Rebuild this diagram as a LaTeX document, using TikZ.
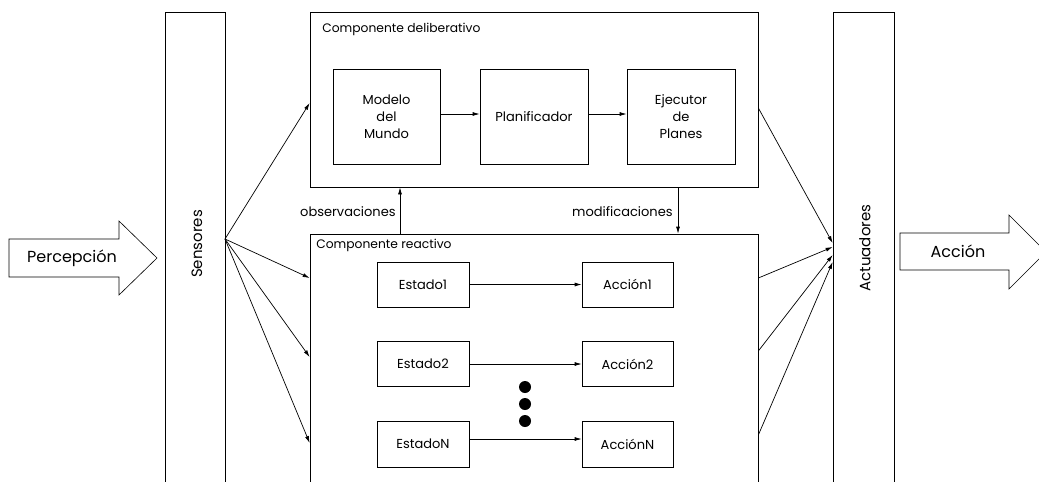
\documentclass[tikz,border=0pt]{standalone}
\usepackage{fontspec}
\setmainfont{Poppins}
\usetikzlibrary{arrows.meta}
\begin{document}
\begin{tikzpicture}[x=1pt,y=-1pt,
  line width=0.7pt,
  box/.style={draw,rectangle,inner sep=0pt},
  lbl/.style={inner sep=0pt,font=\fontsize{13}{17}\selectfont},
  title/.style={inner sep=0pt,font=\fontsize{12.3}{15}\selectfont},
  barlbl/.style={inner sep=0pt,rotate=90,font=\fontsize{15}{18}\selectfont},
  biglbl/.style={inner sep=0pt,font=\fontsize{16}{19}\selectfont},
  arr/.style={-{Latex[length=7pt,width=4pt]}},
  bigarrow/.style={draw,line width=0.6pt,fill=white}]
\clip (0,0) rectangle (1039,482);
\fill[white] (0,0) rectangle (1039,482);

% side bars
\node[box,minimum width=60pt,minimum height=518pt] (sens) at (195,271) {};
\node[barlbl] (sensT) at (197,244) {Sensores};
\node[box,minimum width=61pt,minimum height=518pt] (act) at (863.5,271) {};
\node[barlbl] (actT) at (865,248) {Actuadores};

% input / output block arrows
\draw[bigarrow] (9,239) -- (119,239) -- (119,221) -- (157,258) -- (119,295) -- (119,277) -- (9,277) -- cycle;
\node[biglbl] (perc) at (72,258) {Percepción};
\draw[bigarrow] (900,233) -- (1009,233) -- (1009,215) -- (1046,252) -- (1009,289) -- (1009,270) -- (900,270) -- cycle;
\node[biglbl] (accion) at (958,251) {Acción};

% deliberative component
\node[box,minimum width=448pt,minimum height=175pt] (delib) at (534,99.5) {};
\node[title,anchor=west] (delibT) at (322,29) {Componente deliberativo};
\node[box,minimum width=107pt,minimum height=95pt,align=center,lbl] (modelo) at (386.5,116.5) {Modelo\\del\\Mundo};
\node[box,minimum width=108pt,minimum height=95pt,lbl] (plan) at (534,116.5) {Planificador};
\node[box,minimum width=108pt,minimum height=95pt,align=center,lbl] (ejec) at (681,116.5) {Ejecutor\\de\\Planes};
\draw[arr] (modelo.east |- 0,114) -- (plan.west |- 0,114);
\draw[arr] (plan.east |- 0,114) -- (ejec.west |- 0,114);

% reactive component
\node[box,minimum width=448pt,minimum height=296pt] (react) at (534,382) {};
\node[title,anchor=west] (reactT) at (316,245) {Componente reactivo};
\node[box,minimum width=92pt,minimum height=45pt,lbl] (est1) at (423,284.5) {Estado1};
\node[box,minimum width=92pt,minimum height=45pt,lbl] (est2) at (423,364) {Estado2};
\node[box,minimum width=92pt,minimum height=46pt,lbl] (estN) at (423,444) {EstadoN};
\node[box,minimum width=91pt,minimum height=45pt,lbl] (acc1) at (627.5,284.5) {Acción1};
\node[box,minimum width=91pt,minimum height=45pt,lbl] (acc2) at (627.5,364) {Acción2};
\node[box,minimum width=91pt,minimum height=46pt,lbl] (accN) at (627.5,444) {AcciónN};
\draw[arr] (est1) -- (acc1);
\draw[arr] (est2) -- (acc2);
\draw[arr] (estN.east |- 0,439) -- (accN.west |- 0,439);
\foreach \y [count=\i] in {387,404,421} \fill (525,\y) circle (6pt) coordinate (dot\i);

% links between the two components
\draw[arr] (react.north -| 400,0) -- (delib.south -| 400,0);
\node[lbl,anchor=east] (obs) at (396,212) {observaciones};
\draw[arr] (delib.south -| 678,0) -- (react.north -| 678,0);
\node[lbl,anchor=east] (mod) at (673,212) {modificaciones};

% sensor fan-out
\coordinate (sOut) at (225,239);
\draw[arr] (sOut) -- (delib.west |- 0,103);
\draw[arr] (sOut) -- (react.west |- 0,278);
\draw[arr] (sOut) -- (react.west |- 0,357);
\draw[arr] (sOut) -- (react.west |- 0,443);

% fan-in to actuators
\draw[arr] (delib.east |- 0,108) -- (act.west |- 0,243);
\draw[arr] (react.east |- 0,278) -- (act.west |- 0,247);
\draw[arr] (react.east |- 0,351) -- (act.west |- 0,255);
\draw[arr] (react.east |- 0,435) -- (act.west |- 0,262);
\end{tikzpicture}
\end{document}
